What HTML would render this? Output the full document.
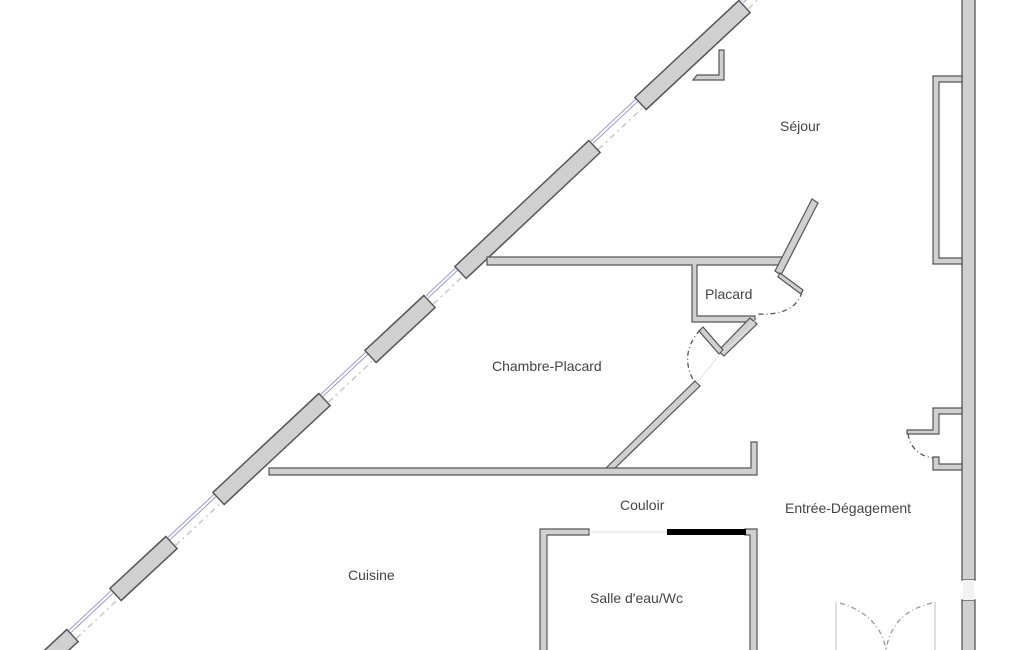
<!DOCTYPE html>
<html><head><meta charset="utf-8"><style>
html,body{margin:0;padding:0;background:#fff;width:1025px;height:650px;overflow:hidden}
svg{display:block}
text{font-family:"Liberation Sans",sans-serif;font-size:14px;fill:#444}
</style></head><body>
<svg width="1025" height="650" viewBox="0 0 1025 650" xmlns="http://www.w3.org/2000/svg">
<g stroke-linecap="butt">
 <g stroke="#9a9ad8" stroke-width="1">
  <line x1="68.9" y1="630.3" x2="110.9" y2="590.9"/><line x1="71" y1="632.5" x2="113" y2="593.1"/>
  <line x1="167.9" y1="537.5" x2="213.9" y2="494.4"/><line x1="170" y1="539.7" x2="216" y2="496.6"/>
  <line x1="320.9" y1="394.2" x2="365.9" y2="352"/><line x1="323" y1="396.4" x2="368" y2="354.2"/>
  <line x1="425.9" y1="295.8" x2="455.9" y2="267.7"/><line x1="428" y1="298" x2="458" y2="269.9"/>
  <line x1="590.9" y1="141.2" x2="635.9" y2="99"/><line x1="593" y1="143.4" x2="638" y2="101.2"/>
  <line x1="740.9" y1="0.6" x2="765.9" y2="-22.8"/><line x1="743" y1="2.8" x2="768" y2="-20.6"/>
 </g>
 <g stroke="#c8c8c8" stroke-width="1.5" stroke-dasharray="6,4,2,4">
  <line x1="76.4" y1="638.4" x2="118.4" y2="599"/>
  <line x1="175.4" y1="545.6" x2="221.4" y2="502.5"/>
  <line x1="328.4" y1="402.3" x2="373.4" y2="360.1"/>
  <line x1="433.4" y1="303.9" x2="463.4" y2="275.8"/>
  <line x1="598.4" y1="149.3" x2="643.4" y2="107.1"/>
  <line x1="748.4" y1="8.7" x2="773.4" y2="-14.8"/>
 </g>
 <g stroke="#555" stroke-width="18">
  <line x1="30" y1="675" x2="73" y2="635"/>
  <line x1="115" y1="595" x2="172" y2="542"/>
  <line x1="218" y1="499" x2="325" y2="399"/>
  <line x1="370" y1="357" x2="430" y2="301"/>
  <line x1="460" y1="273" x2="595" y2="146"/>
  <line x1="640" y1="104" x2="745" y2="6"/>
 </g>
 <g stroke="#d0d0d0" stroke-width="15">
  <line x1="30" y1="675" x2="72" y2="636"/>
  <line x1="116" y1="594" x2="171" y2="543"/>
  <line x1="219" y1="498" x2="324" y2="400"/>
  <line x1="371" y1="356" x2="429" y2="302"/>
  <line x1="461" y1="272" x2="594" y2="147"/>
  <line x1="641" y1="103" x2="744" y2="7"/>
 </g>
</g>
<path d="M693,80 L724,80 L724,50 L719,50 L719,75 L697,75 Z" fill="#d0d0d0" stroke="#555" stroke-width="1.2"/>
<rect x="962" y="-2" width="13" height="582" fill="#d0d0d0" stroke="#555" stroke-width="1.3"/>
<rect x="962" y="600" width="13" height="52" fill="#d0d0d0" stroke="#555" stroke-width="1.3"/>
<rect x="963" y="580" width="11" height="20" fill="#f2f2f2"/>
<path d="M962,76 L933,76 L933,264 L962,264 L962,258 L939,258 L939,82 L962,82 Z" fill="#d0d0d0" stroke="#555" stroke-width="1.2"/>
<path d="M962,408 L933,408 L933,430 L907,430 L907,434 L939,434 L939,414 L962,414 Z" fill="#d0d0d0" stroke="#555" stroke-width="1.2"/>
<path d="M962,470 L933,470 L933,457 L939,457 L939,464 L962,464 Z" fill="#d0d0d0" stroke="#555" stroke-width="1.2"/>
<path d="M908,434 Q912,455 933,458" fill="none" stroke="#555" stroke-width="1.3" stroke-dasharray="5,3,1,3"/>
<g fill="#d0d0d0" stroke="#555" stroke-width="1.2">
 <path d="M487,257 L782,257 L782,265 L697,265 L697,316 L755,316 L755,322 L692,322 L692,265 L487,265 Z"/>
 <path d="M812,199 L818,203 L781,275 L775,271 Z"/>
 <path d="M780,273 L803,290 L801,294 L778,277 Z"/>
 <path d="M750,318 L757,324 L724,356 L718,351 Z"/>
 <path d="M699,331 L703,327 L723,350 L719,354 Z"/>
 <path d="M695,381 L700,386 L614,469 L605,469 Z"/>
 <path d="M269,468 L751,468 L751,442 L757,442 L757,475 L269,475 Z"/>
 <path d="M540,529 L589,529 L589,535 L547,535 L547,652 L540,652 Z"/>
 <path d="M745,529 L757,529 L757,652 L750,652 L750,535 L745,535 Z"/>
</g>
<rect x="667" y="529" width="79" height="6" fill="#000"/>
<line x1="589" y1="532" x2="667" y2="532" stroke="#ddd" stroke-width="1"/>
<path d="M802,292 Q795,316 757,314" fill="none" stroke="#555" stroke-width="1.3" stroke-dasharray="5,3,1,3"/>
<path d="M760,315 Q740,340 722,352" fill="none" stroke="#e4e4e4" stroke-width="1"/>
<path d="M700,330 Q678,355 695,383" fill="none" stroke="#555" stroke-width="1.3" stroke-dasharray="5,3,1,3"/>
<path d="M720,354 L697,383" fill="none" stroke="#e4e4e4" stroke-width="1"/>
<g stroke="#ccc" stroke-width="1.3" fill="none">
 <line x1="836" y1="602" x2="836" y2="652"/><line x1="935" y1="602" x2="935" y2="652"/>
 <path d="M840,603 Q880,615 886,650" stroke-dasharray="5,3,1,3" stroke="#999"/>
 <path d="M932,603 Q892,612 886,650" stroke-dasharray="5,3,1,3" stroke="#999"/>
</g>
<text x="780" y="131">Séjour</text>
<text x="705" y="299">Placard</text>
<text x="492" y="371">Chambre-Placard</text>
<text x="620" y="510">Couloir</text>
<text x="785" y="513">Entrée-Dégagement</text>
<text x="348" y="580">Cuisine</text>
<text x="590" y="603">Salle d'eau/Wc</text>
</svg>
</body></html>
